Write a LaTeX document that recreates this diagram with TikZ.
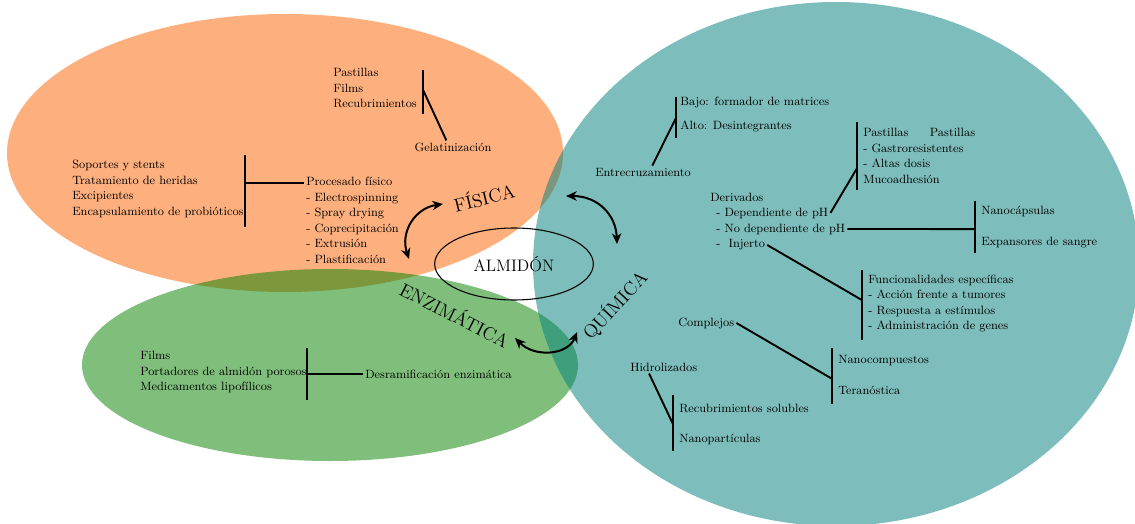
\documentclass[tikz,border=0pt]{standalone}
\usetikzlibrary{shapes.geometric,arrows.meta}
\definecolor{fisorange}{RGB}{251,103,7}
\definecolor{enzgreen}{RGB}{9,132,1}
\definecolor{quiteal}{RGB}{5,128,124}
\begin{document}
\begin{tikzpicture}[x=0.75pt, y=-0.75pt,
  txt/.style={anchor=west, align=left, inner sep=1.5pt, font=\fontsize{9}{11.6}\selectfont},
  big/.style={inner sep=0pt, font=\fontsize{14}{16}\selectfont},
  trunk/.style={line width=0.65mm},
  link/.style={line width=0.5mm},
  flow/.style={line width=1.5pt, arrows={Stealth[length=8pt,width=7pt,inset=2.5pt]-Stealth[length=8pt,width=7pt,inset=2.5pt]}},
  zone/.style={fill opacity=0.52}]
\useasboundingbox (0,0) rectangle (1135,524);
\fill[zone, fisorange] (285,153) ellipse [x radius=278, y radius=139];
\fill[zone, enzgreen] (330,365) ellipse [x radius=248, y radius=96];
\fill[zone, quiteal] (836,264) ellipse [x radius=303, y radius=262];

\node[ellipse, draw, line width=0.8pt, minimum width=119pt, minimum height=54pt, inner sep=0pt, font=\fontsize{12.5}{14}\selectfont] (almidon) at (514,264) {ALMID\'ON\hspace{12pt}};
\node[big, rotate=14] (fisica) at (484,197) {F\'ISICA};
\node[big, rotate=-27] (enzim) at (455,314) {ENZIM\'ATICA};
\node[big, rotate=47] (quimica) at (615,305) {QU\'IMICA};

\coordinate (fe1) at (443,204);
\coordinate (fe2) at (409,259);
\coordinate (fq1) at (566,196);
\coordinate (fq2) at (617,244);
\coordinate (eq1) at (515,338);
\coordinate (eq2) at (577,332);
\draw[flow] (fe1) .. controls (415,208) and (400,232) .. (fe2);
\draw[flow] (fq1) .. controls (598,196) and (616,215) .. (fq2);
\draw[flow] (eq1) .. controls (535,358) and (568,355) .. (eq2);

\node[txt] (gelapp) at (331,88) {Pastillas\\Films\\Recubrimientos};
\node[txt, anchor=center] (gel) at (453,147) {Gelatinizaci\'on};
\draw[trunk] (423,70) -- coordinate[pos=0.45] (gelM) (423,114);
\draw[link] (gelM) -- ([xshift=-5pt]gel.north);

\node[txt] (fisapp) at (70,189) {Soportes y stents\\Tratamiento de heridas\\Excipientes\\Encapsulamiento de probi\'oticos};
\node[txt] (proc) at (304,220.5) {Procesado f\'isico\\- Electrospinning\\- Spray drying\\- Coprecipitaci\'on\\- Extrusi\'on\\- Plastificaci\'on};
\draw[trunk] (245,155) -- coordinate[pos=0.39] (fisM) (245,227);
\draw[link] (fisM) -- (fisM -| proc.west);

\node[txt] (enzapp) at (138,372) {Films\\Portadores de almid\'on porosos\\Medicamentos lipof\'ilicos};
\node[txt] (desram) at (363,374) {Desramificaci\'on enzim\'atica};
\draw[trunk] (307,348) -- coordinate[pos=0.5] (enzM) (307,400);
\draw[link] (enzM) -- (desram.west);

\node[txt] (crossapp) at (678,114.5) {Bajo: formador de matrices\\[6pt]Alto: Desintegrantes};
\node[txt, anchor=center] (entre) at (643,172) {Entrecruzamiento};
\draw[trunk] (676,97) -- coordinate[pos=0.51] (crsM) (676,138);
\draw[link] (crsM) -- ([xshift=7pt]entre.north);

\node[txt] (deriv) at (708,197) {Derivados};
\node[txt] (dep) at (714,213) {- Dependiente de pH};
\node[txt] (nodep) at (714,229) {- No dependiente de pH};
\node[txt] (injerto) at (714,245) {-\ \ Injerto};

\node[txt] (mucoapp) at (861,156) {\makebox[50pt][l]{Pastillas}Pastillas\\- Gastroresistentes\\- Altas dosis\\Mucoadhesi\'on};
\draw[trunk] (857,122) -- coordinate[pos=0.68] (mucM) (857,190);
\draw[link] (dep.east) -- (mucM);

\node[txt] (nanocap) at (979,227.5) {Nanoc\'apsulas\\[11.6pt]Expansores de sangre};
\draw[trunk] (975,201) -- coordinate[pos=0.54] (capM) (975,253);
\draw[link] (nodep.east) -- (capM);

\node[txt] (func) at (866,303.5) {Funcionalidades espec\'ificas\\- Acci\'on frente a tumores\\- Respuesta a est\'imulos\\- Administraci\'on de genes};
\draw[trunk] (862,270) -- coordinate[pos=0.43] (funM) (862,340);
\draw[link] (injerto.east) -- (funM);

\node[txt] (complejos) at (676,323) {Complejos};
\node[txt] (nanocomp) at (836,374.5) {Nanocompuestos\\[11.6pt]Teran\'ostica};
\draw[trunk] (832,348) -- coordinate[pos=0.55] (comM) (832,404);
\draw[link] (complejos.east) -- (comM);

\node[txt] (hidro) at (628,367) {Hidrolizados};
\node[txt] (recub) at (677,424) {Recubrimientos solubles\\[10.9pt]Nanopart\'iculas};
\draw[trunk] (673,395) -- coordinate[pos=0.52] (hidM) (673,451);
\draw[link] ([xshift=-11pt]hidro.south) -- (hidM);
\end{tikzpicture}
\end{document}
